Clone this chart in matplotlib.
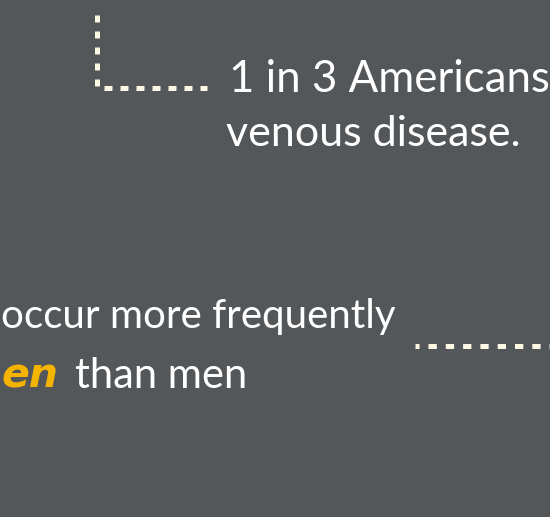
import matplotlib
matplotlib.use("Agg")
import matplotlib.pyplot as plt

BG = "#54575a"
CREAM = "#fdf8e4"
ORANGE = "#f5b400"
FONT = "Lato"

top_lines = ["1 in 3 Americans", "venous disease."]
bottom_line1 = "occur more frequently"
highlight = "en"
bottom_rest = "than men"

# dotted connector paths (x, y in pixels)
connector_v_x = [97, 97]
connector_v_y = [15, 86]
connector_h_x = [104, 207]
connector_h_y = [88, 88]
connector2_x = [415, 550]
connector2_y = [346, 346]

PX = 0.72  # points per pixel at dpi 100

fig = plt.figure(figsize=(5.5, 5.17), dpi=100)
fig.patch.set_facecolor(BG)
ax = fig.add_axes([0, 0, 1, 1])
ax.set_facecolor(BG)
ax.set_xlim(0, 550)
ax.set_ylim(517, 0)
ax.axis("off")

lw = 5 * PX
ax.plot(connector_v_x, connector_v_y, color=CREAM, lw=lw,
        linestyle=(0, (7 / 5, 9 / 5)), dash_capstyle="butt")
ax.plot(connector_h_x, connector_h_y, color=CREAM, lw=lw,
        linestyle=(0, (8 / 5, 8 / 5)), dash_capstyle="butt")
ax.plot(connector2_x, connector2_y, color=CREAM, lw=lw,
        linestyle=(4.3 / 5, (8.3 / 5, 9 / 5)), dash_capstyle="butt")

ax.text(229, 92, top_lines[0], color="white", fontsize=31.5, family=FONT, va="baseline", ha="left")
ax.text(226, 146, top_lines[1], color="white", fontsize=31, family=FONT, va="baseline", ha="left")
ax.text(1, 328, bottom_line1, color="white", fontsize=29, family=FONT, va="baseline", ha="left")
ax.text(2, 388, highlight, color=ORANGE, fontsize=29.5, family="DejaVu Sans", fontweight="bold",
        style="italic", va="baseline", ha="left")
ax.text(75, 388, bottom_rest, color="white", fontsize=30, family=FONT, va="baseline", ha="left")

fig.savefig("out.png", dpi=100, facecolor=BG)
